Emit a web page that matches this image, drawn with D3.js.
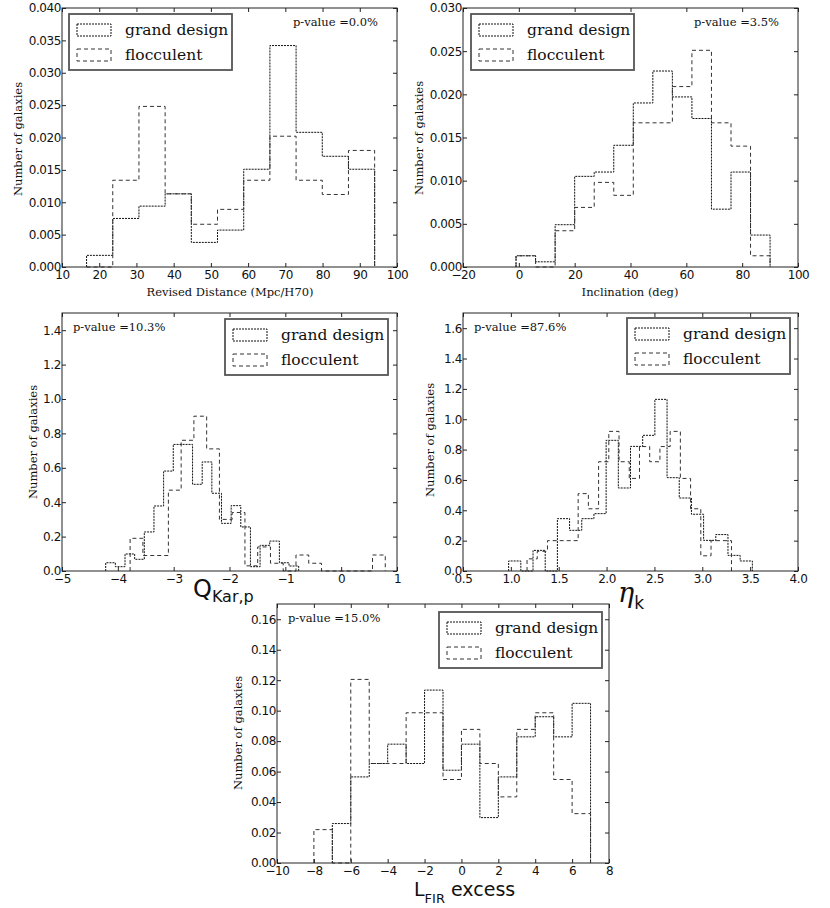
<!DOCTYPE html>
<html>
<head>
<meta charset="utf-8">
<script src="https://cdn.jsdelivr.net/npm/d3@7"></script>
<style>
  body { margin: 0; background: #fff; }
</style>
</head>
<body>
<div id="chart"></div>
<script>
// ---- data (normalised histograms) ----

// Revised distance (Mpc/H70), same bins for both classes
const distBins = { start: 16.6, width: 7.036 };
const distGrand = [0.0018, 0.0075, 0.0094, 0.0113, 0.0038, 0.0057, 0.0151, 0.0342, 0.0208, 0.0171, 0.0151];
const distFloc  = [0, 0.0134, 0.0248, 0.0113, 0.0066, 0.0089, 0.0134, 0.0202, 0.0134, 0.0112, 0.0180];

// Inclination (deg)
const incBins = { start: -1.0, width: 7.0 };
const incGrand = [0.0013, 0.0006, 0.0049, 0.0105, 0.0110, 0.0141, 0.0190, 0.0227, 0.0197, 0.0172, 0.0067, 0.0110, 0.0037];
const incFloc  = [0.0013, 0, 0.0042, 0.0069, 0.0098, 0.0083, 0.0167, 0.0167, 0.0209, 0.0251, 0.0167, 0.0140, 0.0013];

// Q_Kar,p, each class has its own bins
const qGrandBins = { start: -4.217, width: 0.1728 };
const qGrand = [0.048, 0.025, 0.099, 0.068, 0.227, 0.378, 0.581, 0.736, 0.736, 0.504,
                0.634, 0.452, 0.277, 0.380, 0.256, 0.025, 0.149, 0.174, 0.048, 0.029];
const qFlocBins = { start: -3.78, width: 0.2285 };
const qFloc = [0.19, 0.09, 0.09, 0.47, 0.76, 0.90, 0.71, 0.30, 0.34, 0.03,
               0.14, 0.045, 0, 0.093, 0.045, 0, 0, 0, 0, 0.093];

// eta_k
const etaGrandBins = { start: 0.977, width: 0.1273 };
const etaGrand = [0.066, 0, 0.136, 0, 0.345, 0.268, 0.345, 0.378, 0.861, 0.547,
                  0.821, 0.894, 1.131, 0.615, 0.481, 0.374, 0.202, 0.240, 0.103, 0.066];
const etaFlocBins = { start: 1.169, width: 0.1068 };
const etaFloc = [0.08, 0.13, 0.20, 0.20, 0.20, 0.51, 0.41, 0.72, 0.92, 0.72,
                 0.61, 0.82, 0.72, 0.82, 0.92, 0.61, 0.41, 0.10, 0.20, 0.20];

// L_FIR excess
const firGrandBins = { start: -7, width: 1 };
const firGrand = [0.0259, 0.0565, 0.0653, 0.0780, 0.0653, 0.1135, 0.0609, 0.0780, 0.0298, 0.0565, 0.0828, 0.0960, 0.0828, 0.1048];
const firFlocBins = { start: -8, width: 1 };
const firFloc = [0.0219, 0, 0.1205, 0.0653, 0.0653, 0.0986, 0.0986, 0.0548, 0.0877, 0.0653, 0.0434, 0.0877, 0.0986, 0.0548, 0.0324];

const seriesNames = ["grand design", "flocculent"];
const pValues = ["0.0%", "3.5%", "10.3%", "87.6%", "15.0%"];

// ---- styles ----
const serif = "'DejaVu Serif', serif";
const sans = "'DejaVu Sans', sans-serif";
const styles = [
  { stroke: "#111", dash: "2,1" },   // grand design
  { stroke: "#333", dash: "4,3" }    // flocculent
];

const svg = d3.select("#chart").append("svg")
  .attr("width", 830)
  .attr("height", 908);

function steps(bins, values) {
  const pts = [[bins.start, 0]];
  values.forEach((v, i) => {
    pts.push([bins.start + i * bins.width, v]);
    pts.push([bins.start + (i + 1) * bins.width, v]);
  });
  pts.push([bins.start + values.length * bins.width, 0]);
  return pts;
}

function drawPanel(p) {
  const x = d3.scaleLinear().domain(p.xDomain).range([p.left, p.right]);
  const y = d3.scaleLinear().domain(p.yDomain).range([p.bottom, p.top]);
  const g = svg.append("g");

  // histograms
  const line = d3.line().x(d => x(d[0])).y(d => y(d[1]));
  p.series.forEach((s, i) => {
    g.append("path")
      .attr("d", line(steps(s.bins, s.values)))
      .attr("fill", "none")
      .attr("stroke", styles[i].stroke)
      .attr("stroke-width", 1)
      .attr("stroke-dasharray", styles[i].dash);
  });

  // axes, ticks inside on all four sides
  const styleTicks = a => {
    a.select(".domain").remove();
    a.selectAll(".tick line").attr("stroke", "#222");
    a.selectAll(".tick text")
      .attr("fill", "#111")
      .attr("font-family", sans)
      .attr("font-size", 12)
      .attr("letter-spacing", "-0.4px");
  };
  g.append("g").attr("transform", `translate(0,${p.bottom})`)
    .call(d3.axisBottom(x).tickValues(p.xTicks).tickFormat(d3.format(p.xFmt))
      .tickSizeInner(-4).tickSizeOuter(0).tickPadding(3))
    .call(styleTicks);
  g.append("g").attr("transform", `translate(0,${p.top})`)
    .call(d3.axisTop(x).tickValues(p.xTicks).tickFormat("")
      .tickSizeInner(-4).tickSizeOuter(0))
    .call(styleTicks);
  g.append("g").attr("transform", `translate(${p.left},0)`)
    .call(d3.axisLeft(y).tickValues(p.yTicks).tickFormat(d3.format(p.yFmt))
      .tickSizeInner(-4).tickSizeOuter(0).tickPadding(1))
    .call(styleTicks);
  g.append("g").attr("transform", `translate(${p.right},0)`)
    .call(d3.axisRight(y).tickValues(p.yTicks).tickFormat("")
      .tickSizeInner(-4).tickSizeOuter(0))
    .call(styleTicks);

  // frame
  g.append("rect")
    .attr("x", p.left).attr("y", p.top)
    .attr("width", p.right - p.left).attr("height", p.bottom - p.top)
    .attr("fill", "none").attr("stroke", "#222").attr("stroke-width", 1);

  // y label
  g.append("text")
    .attr("transform", `translate(${p.yLabel[0]},${p.yLabel[1]}) rotate(-90)`)
    .attr("text-anchor", "middle")
    .attr("dy", "0.35em")
    .attr("font-family", serif)
    .attr("font-size", 11.5)
    .attr("fill", "#111")
    .text("Number of galaxies");

  // x label
  p.xLabel(g);

  // p-value
  g.append("text")
    .attr("x", p.pAnchor === "end" ? p.right - 19 : p.left + 11)
    .attr("y", p.top + 18)
    .attr("text-anchor", p.pAnchor)
    .attr("font-family", serif)
    .attr("font-size", 11.5)
    .attr("fill", "#111")
    .text("p-value =" + p.pValue);

  // legend
  const lg = g.append("g").attr("transform", `translate(${p.legend[0]},${p.legend[1]})`);
  lg.append("rect")
    .attr("width", 163).attr("height", 56)
    .attr("fill", "#fff").attr("stroke", "#555").attr("stroke-width", 1.8);
  seriesNames.forEach((name, i) => {
    lg.append("rect")
      .attr("x", 8).attr("y", 10 + i * 25)
      .attr("width", 34).attr("height", 12)
      .attr("fill", "none")
      .attr("stroke", styles[i].stroke)
      .attr("stroke-dasharray", styles[i].dash);
    lg.append("text")
      .attr("x", 56).attr("y", 21 + i * 25)
      .attr("font-family", serif)
      .attr("font-size", 15.5)
      .attr("fill", "#111")
      .text(name);
  });
}

function plainLabel(cx, baseline, label) {
  return g => g.append("text")
    .attr("x", cx).attr("y", baseline)
    .attr("text-anchor", "middle")
    .attr("font-family", serif)
    .attr("font-size", 11.5)
    .attr("fill", "#111")
    .text(label);
}

const steps5 = (n, step) => d3.range(n).map(i => +(i * step).toFixed(4));

const panels = [
  {
    left: 62, right: 397, top: 8, bottom: 267,
    xDomain: [10, 100], xTicks: d3.range(10, 101, 10), xFmt: "d",
    yDomain: [0, 0.04], yTicks: steps5(9, 0.005), yFmt: ".3f",
    series: [{ bins: distBins, values: distGrand }, { bins: distBins, values: distFloc }],
    yLabel: [18, 139], pAnchor: "end", pValue: pValues[0], legend: [69, 14],
    xLabel: plainLabel(230, 296, "Revised Distance (Mpc/H70)")
  },
  {
    left: 463, right: 798, top: 8, bottom: 267,
    xDomain: [-20, 100], xTicks: d3.range(-20, 101, 20), xFmt: "d",
    yDomain: [0, 0.03], yTicks: steps5(7, 0.005), yFmt: ".3f",
    series: [{ bins: incBins, values: incGrand }, { bins: incBins, values: incFloc }],
    yLabel: [419, 138], pAnchor: "end", pValue: pValues[1], legend: [471, 14],
    xLabel: plainLabel(630, 296, "Inclination (deg)")
  },
  {
    left: 62, right: 397, top: 313, bottom: 571,
    xDomain: [-5, 1], xTicks: d3.range(-5, 2, 1), xFmt: "d",
    yDomain: [0, 1.5], yTicks: steps5(8, 0.2), yFmt: ".1f",
    series: [{ bins: qGrandBins, values: qGrand }, { bins: qFlocBins, values: qFloc }],
    yLabel: [33, 442], pAnchor: "start", pValue: pValues[2], legend: [225, 319],
    xLabel: g => {
      const t = g.append("text").attr("x", 193).attr("y", 597)
        .attr("font-family", sans).attr("fill", "#111");
      t.append("tspan").attr("font-size", 24).text("Q");
      t.append("tspan").attr("font-size", 16).attr("dy", 5).text("Kar,p");
    }
  },
  {
    left: 463, right: 798, top: 313, bottom: 571,
    xDomain: [0.5, 4.0], xTicks: d3.range(0.5, 4.01, 0.5), xFmt: ".1f",
    yDomain: [0, 1.7], yTicks: steps5(9, 0.2), yFmt: ".1f",
    series: [{ bins: etaGrandBins, values: etaGrand }, { bins: etaFlocBins, values: etaFloc }],
    yLabel: [430, 440], pAnchor: "start", pValue: pValues[3], legend: [627, 318],
    xLabel: g => {
      const t = g.append("text").attr("x", 618).attr("y", 602).attr("fill", "#111");
      t.append("tspan").attr("font-family", serif).attr("font-style", "italic")
        .attr("font-size", 27).text("η");
      t.append("tspan").attr("font-family", sans).attr("font-size", 17)
        .attr("dy", 7).text("k");
    }
  },
  {
    left: 277, right: 609, top: 604, bottom: 863,
    xDomain: [-10, 8], xTicks: d3.range(-10, 9, 2), xFmt: "d",
    yDomain: [0, 0.17], yTicks: steps5(9, 0.02), yFmt: ".2f",
    series: [{ bins: firGrandBins, values: firGrand }, { bins: firFlocBins, values: firFloc }],
    yLabel: [238, 733], pAnchor: "start", pValue: pValues[4], legend: [439, 612],
    xLabel: g => {
      const t = g.append("text").attr("x", 414).attr("y", 896)
        .attr("font-family", sans).attr("fill", "#111");
      t.append("tspan").attr("font-size", 19).text("L");
      t.append("tspan").attr("font-size", 13).attr("dy", 7).text("FIR");
      t.append("tspan").attr("font-size", 19).attr("dy", -7).text(" excess");
    }
  }
];

panels.forEach(drawPanel);
</script>
</body>
</html>
